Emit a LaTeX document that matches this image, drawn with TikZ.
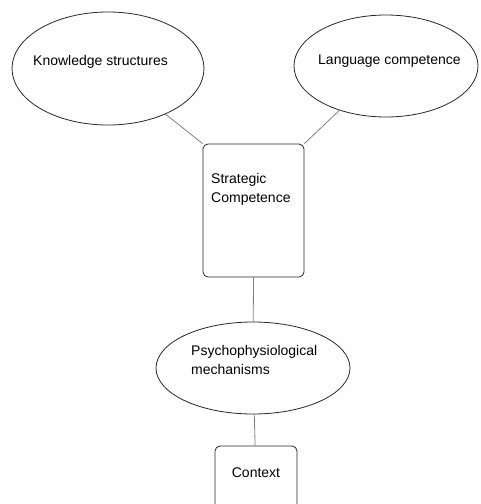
\documentclass[tikz,border=0pt]{standalone}
\usepackage{fontspec}
\setmainfont{Liberation Sans}
\usetikzlibrary{shapes.geometric}
\begin{document}
\begin{tikzpicture}[x=1pt,y=-1pt,
  oval/.style={ellipse, draw=black!85, line width=0.8pt, inner sep=0pt},
  box/.style={rectangle, rounded corners=5pt, draw=black!85, line width=0.8pt, inner sep=0pt},
  link/.style={draw=black!50, line width=0.8pt},
  lbl/.style={font=\fontsize{14}{18.5}\selectfont, inner sep=0pt, anchor=base west, align=left}]
\useasboundingbox (0,0) rectangle (480,504);

% shapes
\node[oval, minimum width=192pt, minimum height=113pt] (ks) at (108,68.5) {};
\node[oval, minimum width=184pt, minimum height=102pt] (ls) at (386,66) {};
\node[box, minimum width=101pt, minimum height=133pt] (sc) at (253.5,210.5) {};
\node[oval, minimum width=194pt, minimum height=92pt] (pm) at (253,368) {};
\node[box, minimum width=82pt, minimum height=64pt] (ctx) at (256,478) {};

% labels (base anchor sits on the last line of a multi-line label)
\node[lbl] (kst) at (33,65) {Knowledge structures};
\node[lbl] (lst) at (318,64) {Language competence};
\node[lbl] (sct) at (211,202) {Strategic\\Competence};
\node[lbl] (pmt) at (191,374) {Psychophysiological\\mechanisms};
\node[lbl, anchor=base] (ctxt) at (256,477) {Context};

% connectors
\draw[link] (ks) -- (sc.north west);
\draw[link] (ls) -- (sc.north east);
\draw[link] (sc.south) -- (pm);
\draw[link] (pm) -- (ctx);
\end{tikzpicture}
\end{document}
